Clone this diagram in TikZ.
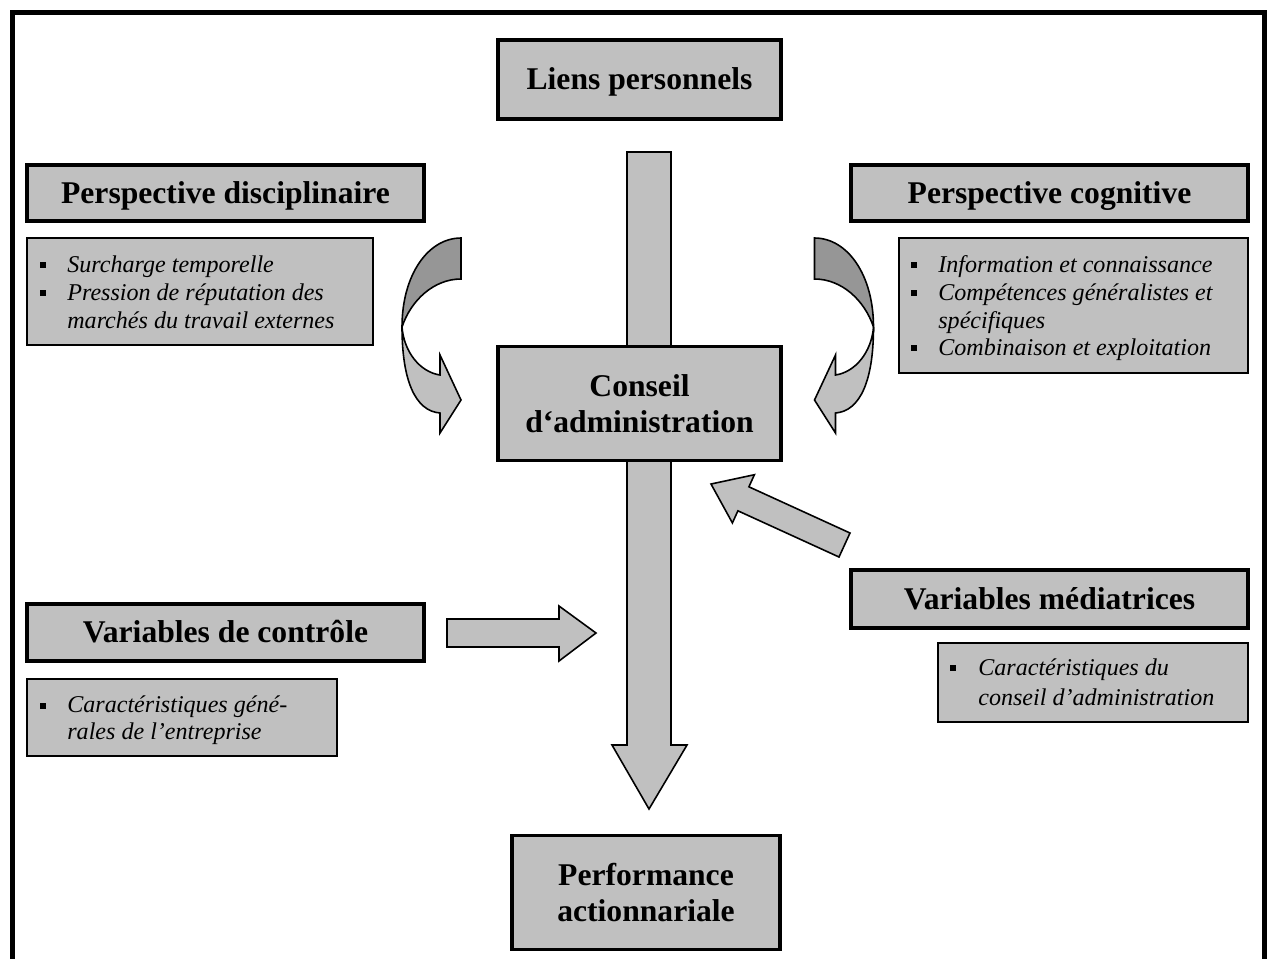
\documentclass[tikz,border=0pt]{standalone}
\usepackage{fontspec}
\setmainfont{Liberation Serif}
\usetikzlibrary{positioning}
\definecolor{boxgray}{RGB}{192,192,192}
\definecolor{ribbondark}{RGB}{150,150,150}
\newcommand{\pxu}{0.02cm}
\tikzset{
  titlebox/.style={draw, line width=1.9pt, fill=boxgray, inner sep=0pt, align=center,
    font=\fontsize{18}{20.5}\selectfont\bfseries},
  onelinetitle/.style={titlebox, text depth=1pt},
  listbox/.style={draw, line width=1.1pt, fill=boxgray, inner sep=0pt},
  itemtext/.style={anchor=base west, inner sep=0pt, font=\fontsize{13.7}{16}\selectfont\itshape},
  bulletsq/.style={fill=black, draw=none, minimum size=6*\pxu, inner sep=0pt},
  blockarrow/.style={draw, line width=0.9pt, fill=boxgray, line join=miter},
  ribbonback/.style={draw, line width=0.9pt, fill=ribbondark, line join=miter},
  frameline/.style={line width=2.83pt, line cap=butt, line join=miter}
}
% curved ribbon arrow drawn from a perspective box towards the board
\newcommand{\ribbonarrow}{%
  \draw[ribbonback] (461,238) .. controls (428,238) and (402,275) .. (402,327)
    .. controls (411,300) and (434,279) .. (461,279) -- cycle;
  \draw[blockarrow] (402,327) .. controls (402,380) and (415,411) .. (440,413)
    -- (440,433) -- (461,400) -- (440,355) -- (440,375)
    .. controls (420,372) and (404,352) .. (402,327) -- cycle;
}
\begin{document}
\begin{tikzpicture}[x=0.02cm, y=-0.02cm]
\useasboundingbox (0,0) rectangle (1267,958);

% outer frame (open at the bottom)
\draw[frameline] (12.5,970) -- (12.5,12.5) -- (1264.5,12.5) -- (1264.5,970);

% main vertical arrow, drawn behind the central boxes
\draw[blockarrow] (627,152) -- (671,152) -- (671,745) -- (687,745) -- (649,809)
  -- (612,745) -- (627,745) -- cycle;

% central column
\node[onelinetitle, minimum width=283*\pxu, minimum height=79*\pxu] (liens) at (639.5,79.5) {Liens personnels};
\node[titlebox, minimum width=283*\pxu, minimum height=114*\pxu] (conseil) at (639.5,403.5) {Conseil\\d‘administration};
\node[titlebox, minimum width=268*\pxu, minimum height=114*\pxu] (perf) at (646,892.5) {Performance\\actionnariale};

% left column
\node[onelinetitle, minimum width=397*\pxu, minimum height=56*\pxu] (disc) at (225.5,193) {Perspective disciplinaire};
\node[listbox, minimum width=346*\pxu, minimum height=107*\pxu] (disclist) at (200,291.5) {};
\node[bulletsq] (db1) at (42.5,265) {};
\node[itemtext] (dt1) at (67,272) {Surcharge temporelle};
\node[bulletsq] (db2) at (42.5,293) {};
\node[itemtext] (dt2) at (67,300) {Pression de réputation des};
\node[itemtext] (dt3) at (67,328) {marchés du travail externes};

\node[onelinetitle, minimum width=397*\pxu, minimum height=57*\pxu] (ctrl) at (225.5,632.5) {Variables de contrôle};
\node[listbox, minimum width=310*\pxu, minimum height=77*\pxu] (ctrllist) at (182,717.5) {};
\node[bulletsq] (cb1) at (42.5,706) {};
\node[itemtext] (ct1) at (67,712) {Caractéristiques géné-};
\node[itemtext] (ct2) at (67,739) {rales de l’entreprise};

% right column
\node[onelinetitle, minimum width=397*\pxu, minimum height=56*\pxu] (cogn) at (1049.5,193) {Perspective cognitive};
\node[listbox, minimum width=349*\pxu, minimum height=135*\pxu] (cognlist) at (1073.5,305.5) {};
\node[bulletsq] (gb1) at (914,265) {};
\node[itemtext] (gt1) at (938,272) {Information et connaissance};
\node[bulletsq] (gb2) at (914,293) {};
\node[itemtext] (gt2) at (938,300) {Compétences généralistes et};
\node[itemtext] (gt3) at (938,328) {spécifiques};
\node[bulletsq] (gb3) at (914,348) {};
\node[itemtext] (gt4) at (938,355) {Combinaison et exploitation};

\node[onelinetitle, minimum width=397*\pxu, minimum height=58*\pxu] (med) at (1049.5,599) {Variables médiatrices};
\node[listbox, minimum width=310*\pxu, minimum height=79*\pxu] (medlist) at (1093,682.5) {};
\node[bulletsq] (mb1) at (953,668) {};
\node[itemtext] (mt1) at (978,675) {Caractéristiques du};
\node[itemtext] (mt2) at (978,705) {conseil d’administration};

% control variables arrow
\draw[blockarrow] (447,619) -- (559,619) -- (559,606) -- (596,633) -- (559,661)
  -- (559,647) -- (447,647) -- cycle;

% mediating variables arrow
\draw[blockarrow] (711,484) -- (754.4,474.7) -- (748.9,486.8) -- (850,533) -- (839,557)
  -- (737.9,510.8) -- (732.4,522.9) -- cycle;

% the two ribbon arrows, the right one mirrored
\ribbonarrow
\begin{scope}[shift={(1275.5,0)}, xscale=-1]
\ribbonarrow
\end{scope}
\end{tikzpicture}
\end{document}
